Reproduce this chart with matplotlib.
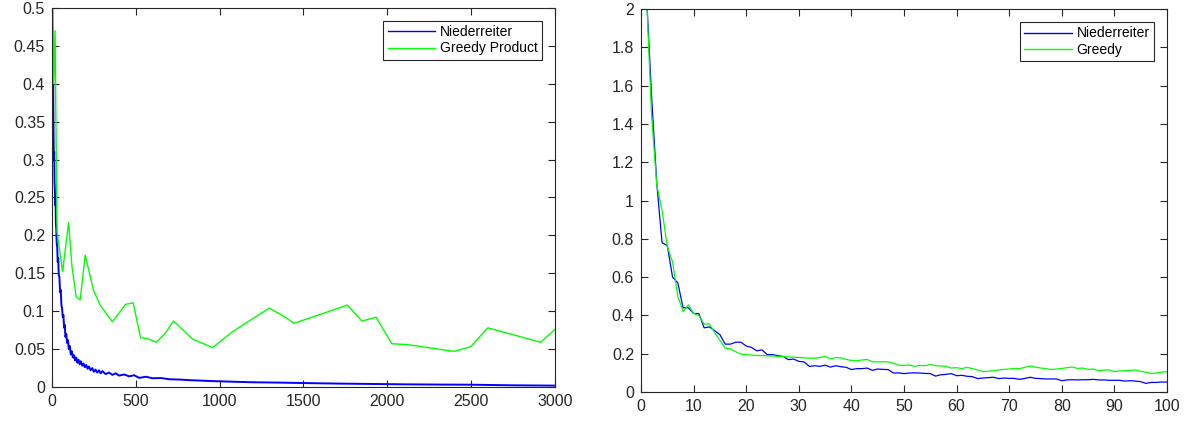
import numpy as np
import matplotlib
matplotlib.use("Agg")
import matplotlib.pyplot as plt

plt.rcParams['font.family'] = ['Liberation Sans', 'DejaVu Sans']

# ---- left panel: Niederreiter vs Greedy Product ----
nied_x = [1, 3, 5, 7, 9, 11, 13, 15, 17, 19, 21, 23, 25, 28, 31, 34, 37, 40, 44, 48,
          52, 56, 60, 64, 68, 72, 76, 80, 85, 90, 95, 100, 106, 112, 118, 124, 130, 137, 144, 151,
          158, 165, 172, 180, 188, 196, 204, 212, 220, 230, 240, 250, 260, 270, 280, 290, 300, 320, 340, 360,
          380, 400, 430, 460, 490, 520, 560, 600, 650, 700, 760, 820, 880, 950, 1000, 1100, 1200, 1350, 1500, 1700,
          1900, 2100, 2300, 2500, 2750, 3000]
nied_y = [0.50, 0.45, 0.38, 0.40, 0.34, 0.30, 0.31, 0.27, 0.26, 0.24, 0.25, 0.215, 0.21, 0.19, 0.185, 0.165, 0.17, 0.148, 0.145, 0.125,
          0.128, 0.108, 0.104, 0.092, 0.095, 0.078, 0.082, 0.066, 0.070, 0.058, 0.062, 0.050, 0.054, 0.043, 0.047, 0.039, 0.042, 0.035, 0.039, 0.032,
          0.036, 0.030, 0.034, 0.028, 0.031, 0.026, 0.029, 0.024, 0.027, 0.022, 0.025, 0.020, 0.023, 0.019, 0.022, 0.018, 0.021, 0.017, 0.019, 0.016,
          0.018, 0.015, 0.0165, 0.014, 0.0155, 0.012, 0.0135, 0.0115, 0.0118, 0.0102, 0.0098, 0.009, 0.0085, 0.0078, 0.0075, 0.0068, 0.0062, 0.0058, 0.0052, 0.0045,
          0.004, 0.0035, 0.0032, 0.003, 0.0022, 0.0018]

greedy_prod_x = [1, 10, 18, 30, 63, 99, 119, 144, 168, 198, 247, 287, 360, 439, 484, 528, 567, 622,
                 672, 725, 840, 958, 1077, 1295, 1371, 1444, 1762, 1848, 1933, 2027, 2116, 2398, 2497,
                 2599, 2915, 3000]
greedy_prod_y = [0.55, 0.40, 0.47, 0.205, 0.152, 0.217, 0.159, 0.119, 0.115, 0.174, 0.128, 0.108, 0.086, 0.109, 0.111, 0.065, 0.064, 0.059,
                 0.070, 0.087, 0.063, 0.052, 0.073, 0.104, 0.095, 0.084, 0.108, 0.087, 0.092, 0.057, 0.056, 0.047, 0.053,
                 0.078, 0.059, 0.076]

# ---- right panel: Niederreiter vs Greedy, n = 1..100 ----
n_right = list(range(1, 101))
nied_right = [2.10, 1.55, 1.09, 0.78, 0.765, 0.60, 0.57, 0.44, 0.44, 0.41,
              0.41, 0.335, 0.34, 0.32, 0.30, 0.25, 0.25, 0.26, 0.26, 0.24,
              0.233, 0.215, 0.22, 0.195, 0.195, 0.19, 0.186, 0.169, 0.172, 0.16,
              0.157, 0.134, 0.137, 0.134, 0.14, 0.13, 0.137, 0.132, 0.129, 0.117,
              0.122, 0.122, 0.125, 0.113, 0.12, 0.118, 0.117, 0.099, 0.10, 0.096,
              0.099, 0.10, 0.099, 0.097, 0.096, 0.083, 0.09, 0.092, 0.096, 0.085,
              0.087, 0.082, 0.08, 0.07, 0.073, 0.075, 0.077, 0.07, 0.073, 0.071,
              0.071, 0.066, 0.071, 0.077, 0.071, 0.07, 0.068, 0.068, 0.068, 0.059,
              0.063, 0.064, 0.063, 0.064, 0.064, 0.066, 0.063, 0.063, 0.061, 0.061,
              0.061, 0.057, 0.059, 0.057, 0.054, 0.045, 0.05, 0.05, 0.052, 0.052]
greedy_right = [2.10, 1.45, 1.08, 0.95, 0.76, 0.68, 0.50, 0.42, 0.455, 0.41,
                0.40, 0.355, 0.355, 0.31, 0.27, 0.23, 0.225, 0.21, 0.198, 0.195,
                0.193, 0.191, 0.19, 0.189, 0.188, 0.186, 0.185, 0.183, 0.182, 0.18,
                0.178, 0.177, 0.176, 0.18, 0.187, 0.172, 0.18, 0.178, 0.17, 0.165,
                0.163, 0.167, 0.17, 0.158, 0.157, 0.158, 0.157, 0.15, 0.14, 0.139,
                0.141, 0.134, 0.139, 0.137, 0.144, 0.137, 0.136, 0.134, 0.125, 0.127,
                0.122, 0.129, 0.122, 0.115, 0.106, 0.108, 0.111, 0.115, 0.118, 0.12,
                0.123, 0.122, 0.129, 0.136, 0.13, 0.125, 0.122, 0.117, 0.12, 0.123,
                0.127, 0.13, 0.123, 0.125, 0.118, 0.12, 0.111, 0.115, 0.115, 0.106,
                0.11, 0.111, 0.113, 0.115, 0.108, 0.103, 0.097, 0.099, 0.104, 0.106]

BLUE = '#0000ff'
GREEN = '#00ff00'
AXC = '#262626'


def matlab_style(ax):
    for s in ax.spines.values():
        s.set_color(AXC)
        s.set_linewidth(0.8)
    ax.tick_params(direction='in', top=True, right=True, length=5, width=0.8,
                   colors=AXC, labelsize=11.5, pad=5)


fig = plt.figure(figsize=(11.93, 4.24), dpi=100)
ax1 = fig.add_axes([0.0436, 0.0873, 0.4216, 0.894])
ax2 = fig.add_axes([0.5373, 0.0755, 0.4409, 0.903])

# the left Niederreiter curve is a dense noisy trace in the original, so draw it bolder
ax1.plot(nied_x, nied_y, color=BLUE, lw=1.4, label='Niederreiter')
ax1.plot(greedy_prod_x, greedy_prod_y, color=GREEN, lw=1.0, label='Greedy Product')
ax1.set_xlim(0, 3000)
ax1.set_ylim(0, 0.5)
ax1.set_xticks(np.arange(0, 3001, 500))
ax1.set_yticks(np.arange(0, 0.501, 0.05))
ax1.set_yticklabels(['0', '0.05', '0.1', '0.15', '0.2', '0.25', '0.3', '0.35', '0.4', '0.45', '0.5'])
matlab_style(ax1)

ax2.plot(n_right, nied_right, color=BLUE, lw=0.9, label='Niederreiter')
ax2.plot(n_right, greedy_right, color=GREEN, lw=0.9, label='Greedy')
ax2.set_xlim(0, 100)
ax2.set_ylim(0, 2)
ax2.set_xticks(np.arange(0, 101, 10))
ax2.set_yticks(np.arange(0, 2.01, 0.2))
ax2.set_yticklabels(['0', '0.2', '0.4', '0.6', '0.8', '1', '1.2', '1.4', '1.6', '1.8', '2'])
matlab_style(ax2)

for ax in (ax1, ax2):
    leg = ax.legend(loc='upper right', fontsize=10, fancybox=False, framealpha=1,
                    edgecolor=AXC, handlelength=3.4, handletextpad=0.35,
                    labelspacing=0.15, borderpad=0.3, borderaxespad=0.95)
    leg.get_frame().set_linewidth(0.8)
    for line in leg.get_lines():
        line.set_linewidth(1.0)

fig.savefig('out.png', dpi=100)
